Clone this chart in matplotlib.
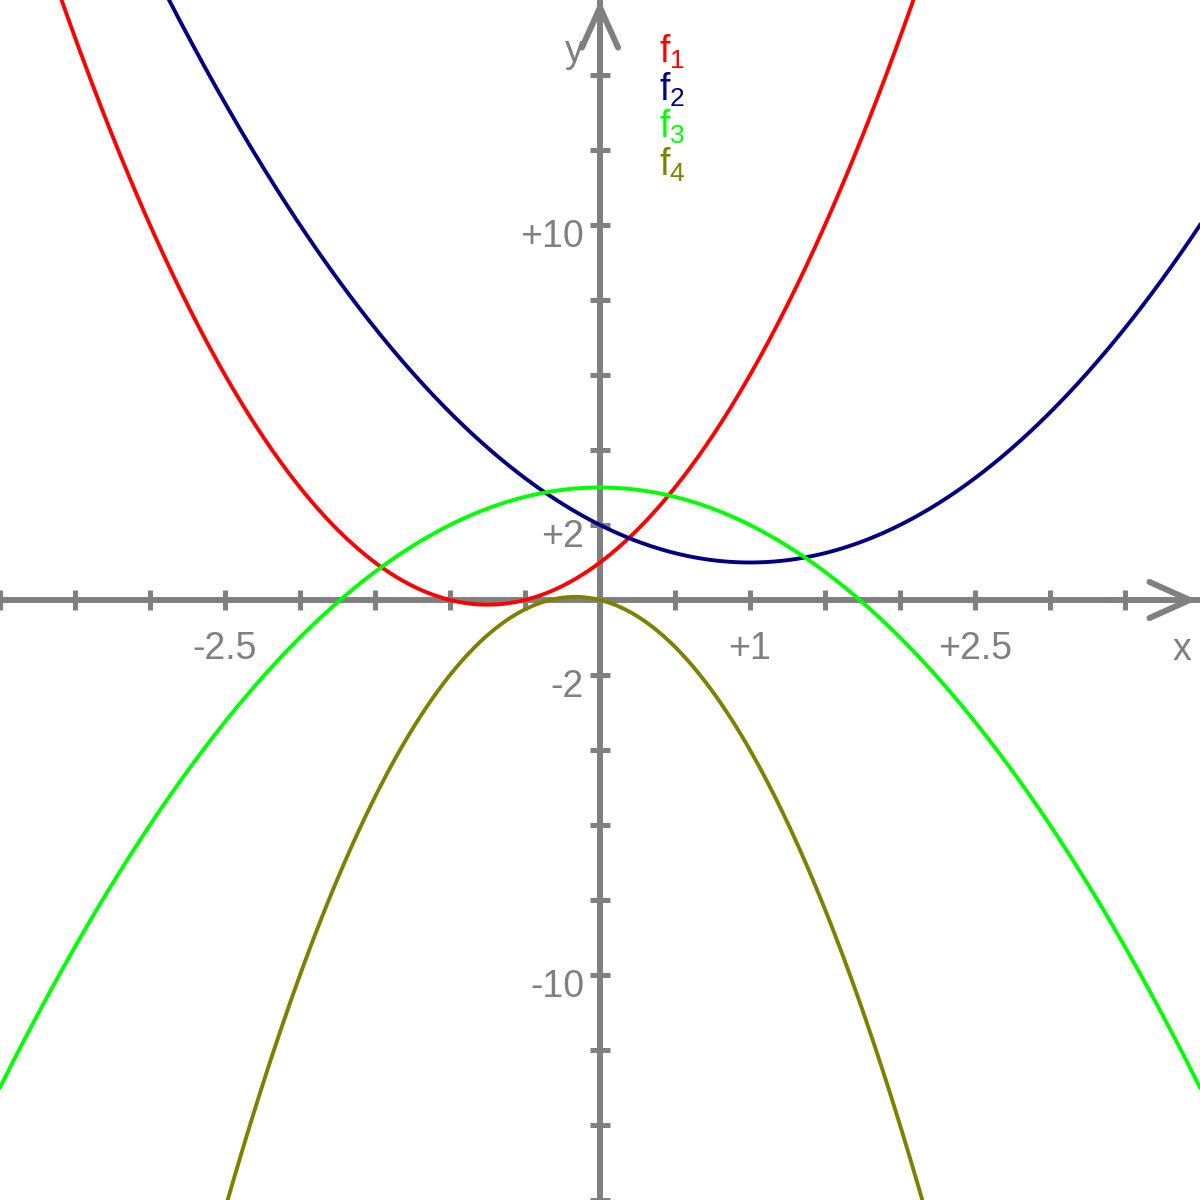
import matplotlib
matplotlib.use('Agg')
import matplotlib.pyplot as plt
import numpy as np

# polynomial coefficients (highest power first)
f1_coeffs = [2, 3, 1]
f2_coeffs = [1, -2, 2]
f3_coeffs = [-1, 0, 3]
f4_coeffs = [-3, -1, 0]
curve_coeffs = [f1_coeffs, f2_coeffs, f3_coeffs, f4_coeffs]
curve_names = ['1', '2', '3', '4']
curve_colors = ['#FF0000', '#000080', '#00FF00', '#808000']

x_range = [-4, 4]
y_range = [-16, 16]
x_ticks = [-4, -3.5, -3, -2.5, -2, -1.5, -1, -0.5, 0.5, 1, 1.5, 2, 2.5, 3, 3.5]
y_ticks = [-16, -14, -12, -10, -8, -6, -4, -2, 2, 4, 6, 8, 10, 12, 14]
x_labelled = [-2.5, 1, 2.5]
y_labelled = [10, 2, -2, -10]

GREY = '#808080'
plt.rcParams['font.family'] = ['Liberation Sans', 'DejaVu Sans']


def main():
    fig = plt.figure(figsize=(12, 12), dpi=100)
    ax = fig.add_axes([0, 0, 1, 1])
    ax.set_xlim(x_range)
    ax.set_ylim(y_range)

    # axes through the origin
    for side in ['top', 'right']:
        ax.spines[side].set_visible(False)
    for side in ['left', 'bottom']:
        ax.spines[side].set_position(('data', 0))
        ax.spines[side].set_color(GREY)
        ax.spines[side].set_linewidth(4.3)
    ax.set_xticks(x_ticks)
    ax.set_yticks(y_ticks)
    ax.set_xticklabels([])
    ax.set_yticklabels([])
    ax.tick_params(direction='inout', length=14, width=3.6, color=GREY)

    # arrow heads
    arrow = dict(arrowstyle='->,head_length=29,head_width=13', color=GREY,
                 lw=4.3, mutation_scale=1, shrinkA=0, shrinkB=0)
    ax.annotate('', xy=(x_range[1] - 0.02, 0), xytext=(x_range[1] - 0.6, 0),
                arrowprops=arrow, annotation_clip=False)
    ax.annotate('', xy=(0, y_range[1]), xytext=(0, y_range[1] - 2.5),
                arrowprops=arrow, annotation_clip=False)

    # tick labels
    for v in x_labelled:
        ax.annotate('{:+g}'.format(v), xy=(v, 0), xytext=(0, -49),
                    textcoords='offset pixels', ha='center', va='center',
                    fontsize=27, color=GREY)
    for v in y_labelled:
        ax.annotate('{:+g}'.format(v), xy=(0, v), xytext=(-16, -12),
                    textcoords='offset pixels', ha='right', va='center',
                    fontsize=27, color=GREY)
    ax.annotate('x', xy=(x_range[1], 0), xytext=(-18, -50),
                textcoords='offset pixels', ha='center', va='center',
                fontsize=27, color=GREY)
    ax.annotate('y', xy=(0, y_range[1]), xytext=(-26, -52),
                textcoords='offset pixels', ha='center', va='center',
                fontsize=27, color=GREY)

    # curves
    xs = np.linspace(x_range[0], x_range[1], 801)
    for coeffs, color in zip(curve_coeffs, curve_colors):
        ax.plot(xs, np.polyval(coeffs, xs), color=color, lw=2.8, zorder=3)

    # legend labels
    for j, (name, color) in enumerate(zip(curve_names, curve_colors)):
        ax.text(0.549, 0.9475 - j * 0.03125, r'$\mathregular{f_{%s}}$' % name,
                transform=ax.transAxes, ha='left', va='baseline',
                fontsize=27, color=color)

    plt.savefig('out.png', dpi=100)


if __name__ == "__main__":
    main()
